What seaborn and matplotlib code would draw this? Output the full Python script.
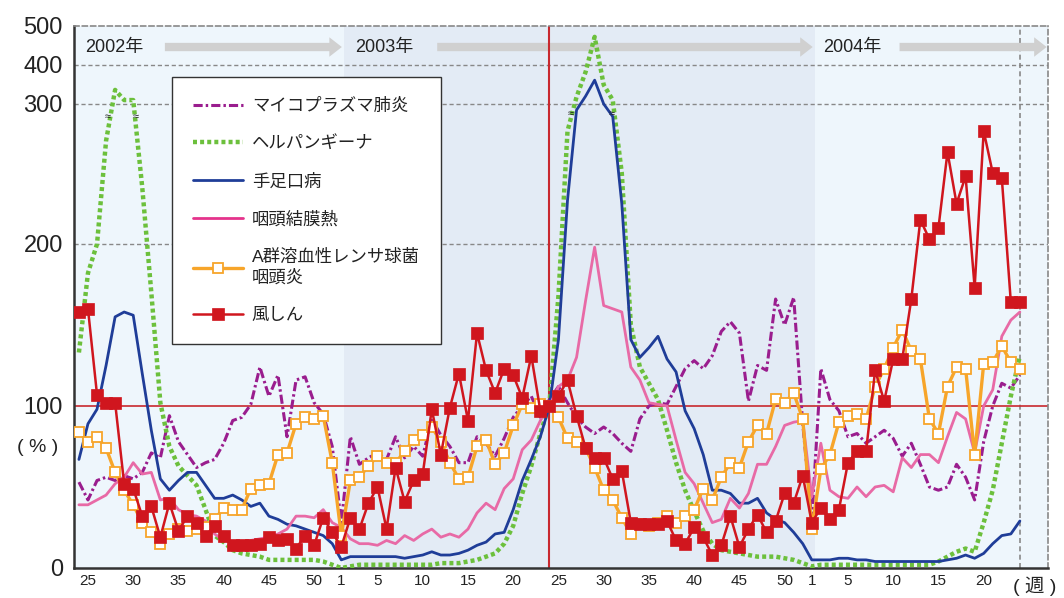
import numpy as np
import pandas as pd
import matplotlib
matplotlib.use("Agg")
import matplotlib.pyplot as plt
import seaborn as sns

# weeks 2002 w24 .. 2004 w24
week_no = list(range(24, 53)) + list(range(1, 53)) + list(range(1, 25))

mycoplasma = [53, 42, 54, 56, 54, 57, 55, 59, 71, 68, 94, 78, 70, 62, 65, 67, 77, 91, 93, 101,
              124, 106, 119, 81, 116, 118, 102, 95, 75, 28, 81, 64, 68, 71, 67, 81, 68, 75, 69, 92,
              82, 75, 65, 65, 81, 77, 69, 80, 93, 100, 106, 93, 104, 112, 102, 93, 87, 83, 87, 83,
              77, 72, 92, 100, 102, 101, 112, 123, 128, 123, 131, 146, 152, 145, 103, 125, 122, 166, 150, 167,
              89, 30, 123, 104, 97, 81, 83, 77, 81, 85, 80, 69, 77, 64, 50, 48, 50, 64, 56, 42,
              78, 100, 114, 111, 119]
herpangina = [133, 182, 200, 264, 336, 310, 310, 235, 170, 102, 75, 63, 57, 51, 36, 20, 16, 11, 9, 8,
              7, 5, 5, 5, 5, 5, 5, 4, 2, 0, 1, 2, 2, 2, 2, 2, 2, 2, 2, 2,
              3, 3, 3, 4, 5, 7, 9, 15, 26, 46, 63, 83, 101, 168, 270, 318, 382, 472, 349, 310,
              244, 150, 124, 114, 104, 85, 65, 48, 35, 23, 15, 11, 10, 9, 8, 7, 7, 7, 6, 5,
              3, 1, 2, 2, 2, 2, 2, 2, 2, 2, 2, 2, 2, 2, 2, 4, 7, 10, 12, 10,
              28, 48, 77, 106, 131]
hfmd = [67, 89, 98, 125, 155, 158, 156, 120, 85, 55, 48, 54, 59, 59, 51, 43, 43, 45, 42, 38,
        40, 32, 30, 27, 26, 24, 22, 20, 15, 5, 7, 7, 7, 7, 7, 7, 6, 7, 8, 10,
        8, 8, 9, 11, 14, 16, 21, 22, 36, 54, 67, 81, 100, 141, 227, 289, 320, 361, 300, 279,
        225, 141, 130, 136, 143, 129, 121, 97, 86, 70, 48, 48, 46, 40, 40, 43, 34, 30, 28, 22,
        15, 5, 5, 5, 6, 6, 5, 5, 4, 4, 4, 4, 4, 4, 4, 4, 5, 6, 8, 6,
        9, 15, 20, 21, 29]
pcf = [39, 39, 42, 45, 52, 56, 65, 58, 59, 42, 43, 36, 33, 32, 29, 21, 17, 16, 16, 17,
       18, 19, 21, 24, 32, 32, 31, 36, 28, 25, 18, 15, 15, 14, 17, 15, 20, 17, 21, 24,
       19, 21, 19, 24, 34, 40, 36, 49, 55, 73, 79, 91, 100, 112, 116, 130, 165, 198, 162, 160,
       158, 124, 116, 102, 101, 100, 79, 59, 52, 40, 28, 30, 43, 37, 46, 64, 64, 75, 88, 90,
       91, 44, 77, 48, 44, 43, 50, 44, 50, 51, 47, 68, 62, 70, 70, 65, 81, 96, 92, 71,
       100, 110, 143, 153, 158]
gas = [84, 78, 81, 74, 59, 48, 39, 28, 22, 15, 21, 24, 23, 24, 25, 30, 37, 36, 36, 49,
       51, 52, 70, 71, 89, 93, 92, 94, 65, 20, 54, 56, 63, 69, 65, 65, 72, 79, 82, 87,
       78, 65, 55, 56, 75, 79, 64, 71, 88, 101, 99, 101, 100, 93, 80, 78, 74, 62, 48, 42,
       31, 21, 27, 26, 28, 32, 28, 32, 36, 49, 42, 56, 65, 62, 78, 88, 83, 104, 102, 108,
       92, 24, 61, 70, 90, 94, 95, 92, 112, 123, 136, 147, 134, 129, 92, 83, 112, 124, 123, 70,
       126, 127, 137, 127, 123]
rubella = [158, 160, 107, 102, 102, 52, 49, 32, 38, 19, 40, 23, 32, 28, 20, 26, 20, 14, 14, 14,
           15, 19, 17, 18, 12, 20, 14, 31, 22, 13, 31, 24, 40, 50, 24, 62, 41, 54, 58, 98,
           70, 99, 120, 91, 145, 122, 108, 123, 119, 105, 131, 97, 100, 106, 116, 94, 74, 68, 68, 55,
           60, 28, 27, 27, 27, 29, 17, 15, 25, 19, 8, 14, 32, 13, 24, 33, 22, 29, 46, 40,
           57, 28, 37, 30, 36, 65, 72, 72, 122, 103, 129, 129, 166, 215, 203, 210, 257, 225, 242, 173,
           270, 244, 241, 164, 164]

labels = ["マイコプラズマ肺炎", "ヘルパンギーナ", "手足口病", "咽頭結膜熱",
          "A群溶血性レンサ球菌\n咽頭炎", "風しん"]
years = ["2002年", "2003年", "2004年"]

df = pd.DataFrame({"x": np.arange(len(week_no)), "myco": mycoplasma, "herp": herpangina,
                   "hfmd": hfmd, "pcf": pcf, "gas": gas, "rub": rubella})

sns.set_theme(style="white")
plt.rcParams["font.family"] = ["Liberation Sans", "Noto Sans CJK JP"]

fig = plt.figure(figsize=(10.64, 5.98), dpi=100)
ax = fig.add_axes([0.0695, 0.0502, 0.9154, 0.9064])

# broken y scale: 0-280 linear, then compressed
VK = [-1000, 0, 200, 280, 300, 400, 500, 1500]
UK = [-1620, 0, 324, 453, 464, 503, 542, 932]
ax.set_yscale("function", functions=(lambda v: np.interp(v, VK, UK),
                                     lambda u: np.interp(u, UK, VK)))

ax.set_facecolor("#eef6fc")
ax.axvspan(29.3, 81.3, color="#e3ebf5", zorder=0, lw=0)

sns.lineplot(data=df, x="x", y="myco", ax=ax, color="#9a1d8e", lw=2.2,
             linestyle=(0, (3, 1, 0.8, 1)), label=labels[0], zorder=3)
sns.lineplot(data=df, x="x", y="herp", ax=ax, color="#6cc03c", lw=3.2,
             linestyle=(0, (0.9, 0.7)), label=labels[1], zorder=3)
sns.lineplot(data=df, x="x", y="hfmd", ax=ax, color="#1f3d98", lw=2,
             label=labels[2], zorder=3)
sns.lineplot(data=df, x="x", y="pcf", ax=ax, color="#e86aa6", lw=2,
             label=labels[3], zorder=3)
sns.lineplot(data=df, x="x", y="gas", ax=ax, color="#f7a52a", lw=2.4, marker="s",
             markersize=7.5, markerfacecolor="white", markeredgecolor="#f7a52a",
             markeredgewidth=1.3, label=labels[4], zorder=4)
sns.lineplot(data=df, x="x", y="rub", ax=ax, color="#d0161e", lw=1.8, marker="s",
             markersize=8, markeredgewidth=0.5, markeredgecolor="#d0161e",
             label=labels[5], zorder=5)

# reference lines
for v in [200, 300, 400]:
    ax.axhline(v, color="#888888", lw=1, ls=(0, (3, 2)), zorder=1)
ax.axhline(100, color="#c8282e", lw=1.2, zorder=2)
ax.axvline(52, color="#c8282e", lw=1.5, zorder=2)
ax.axvline(104, color="#888888", lw=1.2, ls=(0, (3, 2)), zorder=1)

# break marks
for bx, by in [(3.2, 279), (6.3, 279), (54.4, 281), (58.9, 281)]:
    ax.text(bx, by, "≈", fontsize=8, ha="center", va="center", color="#222222", zorder=6)

# year labels and arrows
arrow_style = "simple,head_length=0.9,head_width=1.4,tail_width=0.6"
for txt, tx, a0, a1 in [(years[0], 0.66, 9.5, 29.06), (years[1], 30.5, 39.6, 81.1),
                        (years[2], 82.2, 90.7, 106.96)]:
    ax.text(tx, 446, txt, fontsize=13, ha="left", va="center", color="#222222", zorder=2)
    ax.annotate("", xy=(a1, 446), xytext=(a0, 446),
                arrowprops=dict(arrowstyle=arrow_style, mutation_scale=10, fc="#d0d0d0",
                                ec="none", shrinkA=0, shrinkB=0), zorder=1.5)

ax.set_xlim(-0.55, 107.1)
ax.set_ylim(0, 500)

tick_pos = [i for i, w in enumerate(week_no) if w % 5 == 0 or w == 1]
ax.set_xticks(tick_pos)
ax.set_xticklabels([str(week_no[i]) for i in tick_pos], fontsize=11, color="#222222")
ax.set_xticks(np.arange(0, 108), minor=True)
ax.set_yticks([0, 100, 200, 300, 400, 500])
ax.set_yticklabels(["0", "100", "200", "300", "400", "500"], fontsize=17, color="#222222")
ax.yaxis.set_minor_locator(matplotlib.ticker.NullLocator())
ax.tick_params(axis="x", which="major", direction="in", length=7, width=1.2, color="#333333", pad=4)
ax.tick_params(axis="x", which="minor", direction="in", length=4, width=1, color="#333333")
ax.tick_params(axis="y", direction="in", length=7, width=1.5, color="#333333", pad=8)
ax.set_xlabel("")
ax.set_ylabel("")

for s in ["left", "bottom"]:
    ax.spines[s].set_color("#333333")
    ax.spines[s].set_linewidth(1.8)
for s in ["top", "right"]:
    ax.spines[s].set_color("#888888")
    ax.spines[s].set_linewidth(1.2)
    ax.spines[s].set_linestyle((0, (3, 2)))

leg = ax.legend(loc="upper left", bbox_to_anchor=(0.1006, 0.906), borderaxespad=0,
                fontsize=12.5, frameon=True, fancybox=False, framealpha=1,
                edgecolor="#333333", handlelength=2.9, handletextpad=0.5,
                borderpad=1.2, labelspacing=1.25, numpoints=1)
leg.get_frame().set_linewidth(1)
leg.get_lines()[3].set_color("#e5338c")
for t in leg.get_texts():
    t.set_linespacing(1.35)
    t.set_color("#222222")
leg.set_zorder(10)

fig.text(38 / 1064, 1 - 447 / 598, "( % )", fontsize=14, ha="center", va="center", color="#222222")
fig.text(1035 / 1064, 1 - 586 / 598, "( 週 )", fontsize=14, ha="center", va="center", color="#222222")

fig.savefig("out.png", dpi=100)
